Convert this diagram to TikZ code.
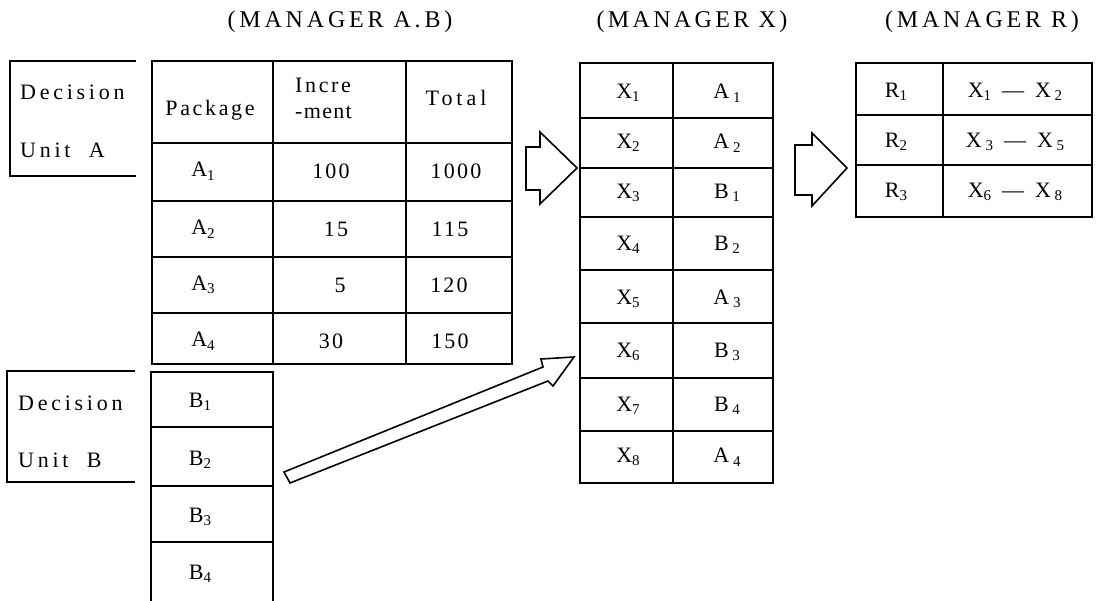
\documentclass[tikz,border=0pt]{standalone}
\usepackage{fontspec}
\setmainfont{Liberation Serif}
\newcommand\mysub[1]{\raisebox{-0.35ex}{\fontsize{15}{15}\selectfont #1}}
\newcommand\lsp[2]{{\addfontfeatures{LetterSpace=#1}#2}}
\begin{document}
\begin{tikzpicture}[x=1pt,y=-1pt,
  lbl/.style={inner sep=0pt, anchor=center, font=\fontsize{22}{24}\selectfont},
  wlbl/.style={inner sep=0pt, anchor=west, font=\fontsize{22}{24}\selectfont},
  ttl/.style={inner sep=0pt, anchor=center, font=\fontsize{24}{26}\selectfont},
  outerline/.style={line width=2.4pt, line cap=rect},
  innerline/.style={line width=1.6pt},
  bracketline/.style={line width=2pt},
  blockarrow/.style={line width=1.6pt, line join=miter, fill=white},
]
\useasboundingbox (0,0) rectangle (1098,601);

% ---------- titles ----------
\node[ttl] (tAB) at (340,22) {\lsp{16}{(MANAGER A.B)}};
\node[ttl] (tX)  at (692,22) {\lsp{14}{(MANAGER X)}};
\node[ttl] (tR)  at (982,22) {\lsp{16}{(MANAGER R)}};

% ---------- Decision Unit A ----------
\draw[bracketline] (136,61) -- (10,61) -- (10,176) -- (136,176);
\node[wlbl] (dA1) at (20,92)  {\lsp{17}{Decision}};
\node[wlbl] (dA2) at (20,150) {\lsp{17}{Unit~~A}};

% ---------- Decision Unit B ----------
\draw[bracketline] (135,371) -- (7,371) -- (7,482) -- (135,482);
\node[wlbl] (dB1) at (18,403) {\lsp{17}{Decision}};
\node[wlbl] (dB2) at (18,460) {\lsp{17}{Unit~~B}};

% ---------- Table A ----------
\foreach \y in {143,201,257,313} \draw[innerline] (152,\y) -- (512,\y);
\foreach \x in {273,406} \draw[innerline] (\x,61) -- (\x,364);
\draw[outerline] (152,61) rectangle (512,364);
\node[lbl] (hPack) at (210,110) {\lsp{12}{Package}};
\node[wlbl] (hInc1) at (295,85) {\lsp{12}{Incre}};
\node[wlbl] (hInc2) at (295,112) {\lsp{6}{-ment}};
\node[lbl] (hTot) at (456,98) {\lsp{18}{Total}};
\node[lbl] (a1) at (203,171) {A\mysub{1}};
\node[lbl] (a2) at (203,229) {A\mysub{2}};
\node[lbl] (a3) at (203,285) {A\mysub{3}};
\node[lbl] (a4) at (203,341) {A\mysub{4}};
\node[lbl] (i1) at (331,171) {\lsp{10}{100}};
\node[lbl] (i2) at (336,229) {\lsp{10}{15}};
\node[lbl] (i3) at (340,285) {5};
\node[lbl] (i4) at (331,341) {\lsp{10}{30}};
\node[lbl] (s1) at (456,171) {\lsp{10}{1000}};
\node[lbl] (s2) at (450,229) {\lsp{10}{115}};
\node[lbl] (s3) at (449,285) {\lsp{10}{120}};
\node[lbl] (s4) at (450,341) {\lsp{10}{150}};

% ---------- Table B ----------
\foreach \y in {427,486,542} \draw[innerline] (151,\y) -- (273,\y);
\draw[outerline] (151,601) -- (151,372) -- (273,372) -- (273,601);
\node[lbl] (b1) at (200,402) {B\mysub{1}};
\node[lbl] (b2) at (200,460) {B\mysub{2}};
\node[lbl] (b3) at (200,517) {B\mysub{3}};
\node[lbl] (b4) at (200,574) {B\mysub{4}};

% ---------- Table X ----------
\foreach \y in {118,168,217,270,323,378,431} \draw[innerline] (580,\y) -- (773,\y);
\draw[innerline] (673,63) -- (673,483);
\draw[outerline] (580,63) rectangle (773,483);
\foreach \n/\y/\v in {1/93/A\,\mysub{1},2/143/A\,\mysub{2},3/193/B\,\mysub{1},4/245/B\,\mysub{2},5/299/A\,\mysub{3},6/352/B\,\mysub{3},7/406/B\,\mysub{4},8/457/A\,\mysub{4}}{
  \node[lbl] (x\n) at (628,\y) {X\mysub{\n}};
  \node[lbl] (xv\n) at (727,\y) {\v};
}

% ---------- Table R ----------
\foreach \y in {115,165} \draw[innerline] (856,\y) -- (1092,\y);
\draw[innerline] (943,63) -- (943,217);
\draw[outerline] (856,63) rectangle (1092,217);
\node[lbl] (r1) at (896,92)  {R\mysub{1}};
\node[lbl] (r2) at (896,142) {R\mysub{2}};
\node[lbl] (r3) at (896,192) {R\mysub{3}};
\node[lbl] (rv1) at (1015,92)  {X\mysub{1}\ \ --- \ X\,\mysub{2}};
\node[lbl] (rv2) at (1015,142) {X\,\mysub{3}\ \ --- \ X\,\mysub{5}};
\node[lbl] (rv3) at (1015,192) {X\mysub{6}\ \ --- \ X\,\mysub{8}};

% ---------- block arrows ----------
\coordinate (tipAX) at (577,168);
\coordinate (tipXR) at (847,168);
\coordinate (tipBX) at (574,357);
\draw[blockarrow] (526,147) -- (540,147) -- (540,132) -- (tipAX) -- (540,204) -- (540,190) -- (526,190) -- cycle;
\draw[blockarrow] (795,145) -- (812,145) -- (812,133) -- (tipXR) -- (812,206) -- (812,195) -- (795,195) -- cycle;
\draw[blockarrow] (284,472) -- (543,367) -- (541,359) -- (tipBX) -- (553,386) -- (548,381) -- (290,483) -- cycle;
\end{tikzpicture}
\end{document}
